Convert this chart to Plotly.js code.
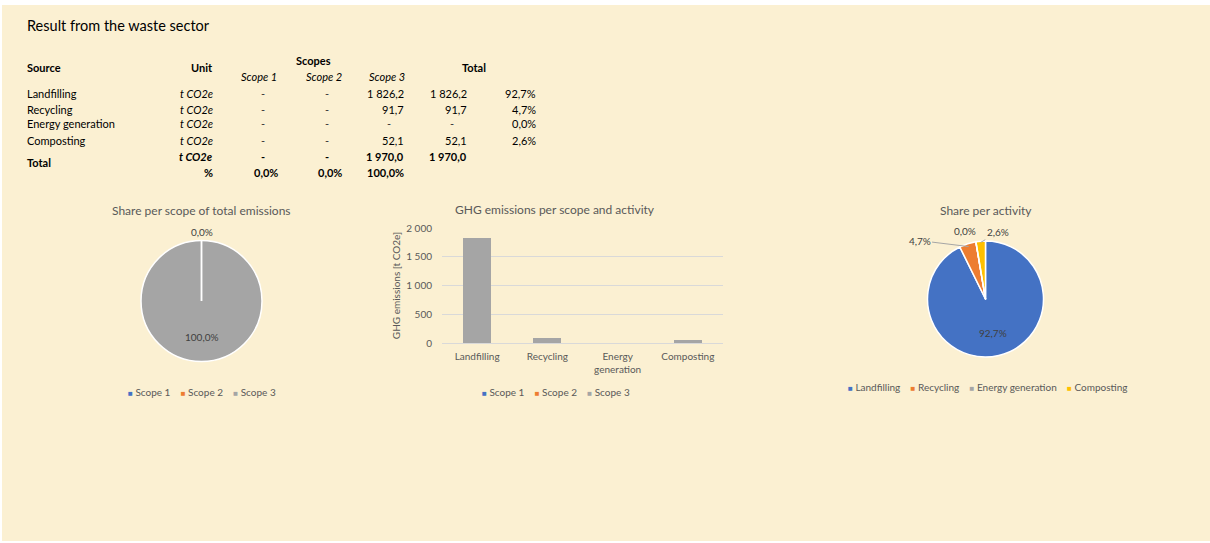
<!DOCTYPE html>
<html>
<head>
<meta charset="utf-8">
<script src="https://cdn.plot.ly/plotly-3.0.1.min.js"></script>
<style>
  html, body { margin: 0; padding: 0; background: #ffffff; }
  #chart { position: absolute; left: 2px; top: 5px; width: 1208px; height: 536px; }
</style>
</head>
<body>
<div id="chart"></div>
<script>
// ---- Data ---------------------------------------------------------------
const sources = ['Landfilling', 'Recycling', 'Energy generation', 'Composting'];
const axisLabels = ['Landfilling', 'Recycling', 'Energy<br>generation', 'Composting'];
const scopeNames = ['Scope 1', 'Scope 2', 'Scope 3'];
const scope1 = [0, 0, 0, 0];
const scope2 = [0, 0, 0, 0];
const scope3 = [1826.2, 91.7, 0, 52.1];
const unitLabel = 't CO2e';

// ---- Style --------------------------------------------------------------
const scopeColors = ['#4472C4', '#ED7D31', '#A5A5A5'];
const activityColors = ['#4472C4', '#ED7D31', '#A5A5A5', '#FFC000'];
const FONT = 'Lato, "Open Sans", sans-serif';
const GREY_TXT = '#595959';
const LABEL_TXT = '#404040';
const BG = '#FBF0D2';

// page geometry (pixel helpers -> paper coordinates)
const W = 1208, H = 536, OX = 2, OY = 5;
const px = x => (x - OX) / W;
const py = y => 1 - (y - OY) / H;
const PAD = 2; // annotation box padding around its text

// ---- Derived values -----------------------------------------------------
const rowTotals = sources.map((_, i) => scope1[i] + scope2[i] + scope3[i]);
const sum = a => a.reduce((s, v) => s + v, 0);
const scopeTotals = [sum(scope1), sum(scope2), sum(scope3)];
const grandTotal = sum(rowTotals);

function fmtNum(v) {
  const parts = v.toFixed(1).split('.');
  return parts[0].replace(/\B(?=(\d{3})+(?!\d))/g, '\u00A0') + ',' + parts[1];
}
function fmtPct(f) { return (f * 100).toFixed(1).replace('.', ',') + '%'; }

const annotations = [];
const shapes = [];
function txt(text, x, y, anchor, opt) {
  opt = opt || {};
  const dx = anchor === 'left' ? -PAD : (anchor === 'right' ? PAD : 0);
  annotations.push({
    text: text, xref: 'paper', yref: 'paper', x: px(x + dx), y: py(y),
    xanchor: anchor, yanchor: 'middle', showarrow: false,
    font: { family: FONT, size: opt.size || 11, color: opt.color || '#000000' }
  });
}
const B = s => '<b>' + s + '</b>';
const I = s => '<i>' + s + '</i>';

// ---- Heading and table --------------------------------------------------
txt('Result from the waste sector', 27, 25, 'left', { size: 14.5 });

const colRight = { unit: 213, s1: 278, s2: 342, s3: 404, tot: 467, share: 536 };
const DASH_INSET = 15;
const rowY = [93, 109, 124, 140];

txt(B('Source'), 27, 67, 'left');
txt(B('Unit'), colRight.unit, 67, 'right');
txt(B('Scopes'), 313, 60, 'center');
txt(B('Total'), 474, 67, 'center');
txt(I(scopeNames[0]), 259, 77, 'center');
txt(I(scopeNames[1]), 324, 77, 'center');
txt(I(scopeNames[2]), 387, 77, 'center');

function numCell(v, right, y, bold) {
  const wrap = bold ? B : (s => s);
  if (Math.abs(v) < 1e-9) txt(wrap('-'), right - DASH_INSET, y, 'center', { color: bold ? '#000' : '#333' });
  else txt(wrap(fmtNum(v)), right, y, 'right');
}

sources.forEach((name, i) => {
  const y = rowY[i];
  txt(name, 27, y, 'left');
  txt(I(unitLabel), colRight.unit, y, 'right');
  numCell(scope1[i], colRight.s1, y);
  numCell(scope2[i], colRight.s2, y);
  numCell(scope3[i], colRight.s3, y);
  numCell(rowTotals[i], colRight.tot, y);
  txt(fmtPct(rowTotals[i] / grandTotal), colRight.share, y, 'right');
});

txt(B('Total'), 27, 162, 'left');
txt(B(I(unitLabel)), colRight.unit, 156, 'right');
numCell(scopeTotals[0], colRight.s1, 156, true);
numCell(scopeTotals[1], colRight.s2, 156, true);
numCell(scopeTotals[2], colRight.s3, 156, true);
numCell(grandTotal, colRight.tot, 156, true);
txt(B('%'), colRight.unit, 172, 'right');
txt(B(fmtPct(scopeTotals[0] / grandTotal)), colRight.s1, 172, 'right');
txt(B(fmtPct(scopeTotals[1] / grandTotal)), colRight.s2, 172, 'right');
txt(B(fmtPct(scopeTotals[2] / grandTotal)), colRight.s3, 172, 'right');

// ---- Chart titles -------------------------------------------------------
txt('Share per scope of total emissions', 201, 211, 'center', { size: 12, color: GREY_TXT });
txt('GHG emissions per scope and activity', 555, 209, 'center', { size: 12, color: GREY_TXT });
txt('Share per activity', 986, 211, 'center', { size: 12, color: GREY_TXT });

// ---- Legends (square swatch + name) -------------------------------------
function legend(names, colors, cx, y) {
  const gap = '\u00A0\u00A0\u00A0\u00A0';
  const text = names.map((n, i) =>
    '<span style="color:' + colors[i] + ';font-size:8px">\u25A0</span>\u00A0' + n).join(gap);
  txt(text, cx, y, 'center', { size: 10, color: GREY_TXT });
}
legend(scopeNames, scopeColors, 202, 392);
legend(scopeNames, scopeColors, 556, 392);
legend(sources, activityColors, 987, 387);

// ---- Pie geometry -------------------------------------------------------
const pieA = { cx: 201.5, cy: 301, r: 60.5 };
const pieB = { cx: 985.5, cy: 299, r: 58 };
const pieDomain = p => ({ x: [px(p.cx - p.r), px(p.cx + p.r)], y: [py(p.cy + p.r), py(p.cy - p.r)] });

// point on a clockwise-from-top pie at fraction f of the turn and radius fraction k
function piePoint(p, f, k) {
  const a = f * 2 * Math.PI;
  return [p.cx + k * p.r * Math.sin(a), p.cy - k * p.r * Math.cos(a)];
}

// slice labels (inside for large slices, outside otherwise) and the white
// radial edge that an empty slice leaves on the pie
function pieLabels(p, values, outside) {
  const tot = sum(values);
  let cum = 0;
  const seen = {};
  values.forEach((v, i) => {
    const f = v / tot;
    const mid = cum + f / 2;
    if (v === 0) {
      const e = piePoint(p, cum, 1);
      shapes.push({
        type: 'line', xref: 'paper', yref: 'paper',
        x0: px(p.cx), y0: py(p.cy), x1: px(e[0]), y1: py(e[1]),
        line: { color: '#FFFFFF', width: 1.5 }
      });
    }
    cum += f;
    const o = outside[i];
    const key = fmtPct(f) + '@' + mid.toFixed(5);
    if (seen[key]) return;
    seen[key] = true;
    if (!o) {
      const pt = piePoint(p, mid, 0.6);
      txt(fmtPct(f), pt[0], pt[1], 'center', { size: 10, color: LABEL_TXT });
      return;
    }
    const edge = piePoint(p, mid, o.k || 1);
    annotations.push({
      text: fmtPct(f), xref: 'paper', yref: 'paper',
      x: px(edge[0]), y: py(edge[1]),
      ax: o.dx, ay: o.dy, axref: 'pixel', ayref: 'pixel',
      showarrow: true, arrowhead: 0, arrowwidth: o.line ? 1 : 0.01,
      arrowcolor: o.line ? '#A6A6A6' : 'rgba(0,0,0,0)', standoff: 0, startstandoff: 0,
      font: { family: FONT, size: 10, color: LABEL_TXT }
    });
  });
}

const scopeShareValues = scopeTotals;
pieLabels(pieA, scopeShareValues, [
  { dx: 0, dy: -9 }, { dx: 0, dy: -9 }, null
]);
pieLabels(pieB, rowTotals, [
  null,
  { dx: -49, dy: -6, line: true, k: 0.95 },
  { dx: -11, dy: -11 },
  { dx: 17, dy: -10, line: true, k: 0.98 }
]);

// ---- Traces -------------------------------------------------------------
const traces = [];
traces.push({
  type: 'pie', labels: scopeNames, values: scopeShareValues, sort: false,
  direction: 'clockwise', rotation: 0, textinfo: 'none', hoverinfo: 'skip',
  marker: { colors: scopeColors, line: { color: '#FFFFFF', width: 1.5 } },
  domain: pieDomain(pieA), showlegend: false
});
traces.push({
  type: 'pie', labels: sources, values: rowTotals, sort: false,
  direction: 'clockwise', rotation: 0, textinfo: 'none', hoverinfo: 'skip',
  marker: { colors: activityColors, line: { color: '#FFFFFF', width: 1.5 } },
  domain: pieDomain(pieB), showlegend: false
});
[scope1, scope2, scope3].forEach((vals, i) => {
  traces.push({
    type: 'bar', name: scopeNames[i], x: axisLabels, y: vals,
    marker: { color: scopeColors[i] }, hoverinfo: 'skip', showlegend: false
  });
});

const layout = {
  width: W, height: H,
  margin: { l: 0, r: 0, t: 0, b: 0 },
  paper_bgcolor: BG, plot_bgcolor: 'rgba(0,0,0,0)',
  font: { family: FONT, color: GREY_TXT },
  separators: ', ',
  barmode: 'stack', bargap: 0.6,
  showlegend: false,
  xaxis: {
    domain: [px(442), px(723)], type: 'category',
    showgrid: false, showline: false, zeroline: false, ticks: '',
    ticklabelstandoff: 6,
    tickfont: { size: 10, color: GREY_TXT }, fixedrange: true
  },
  yaxis: {
    domain: [py(343), py(228)], range: [0, 2000], dtick: 500,
    separatethousands: true,
    showgrid: true, gridcolor: '#D9D9D9', gridwidth: 1,
    zeroline: true, zerolinecolor: '#D9D9D9', zerolinewidth: 1,
    showline: false, ticks: '', ticklabelstandoff: 9,
    tickfont: { size: 10, color: GREY_TXT }, fixedrange: true,
    title: { text: 'GHG emissions [t CO2e]', font: { size: 10, color: GREY_TXT }, standoff: 3 }
  },
  shapes: shapes,
  annotations: annotations
};

Plotly.newPlot('chart', traces, layout, { staticPlot: true, displayModeBar: false });
</script>
</body>
</html>
